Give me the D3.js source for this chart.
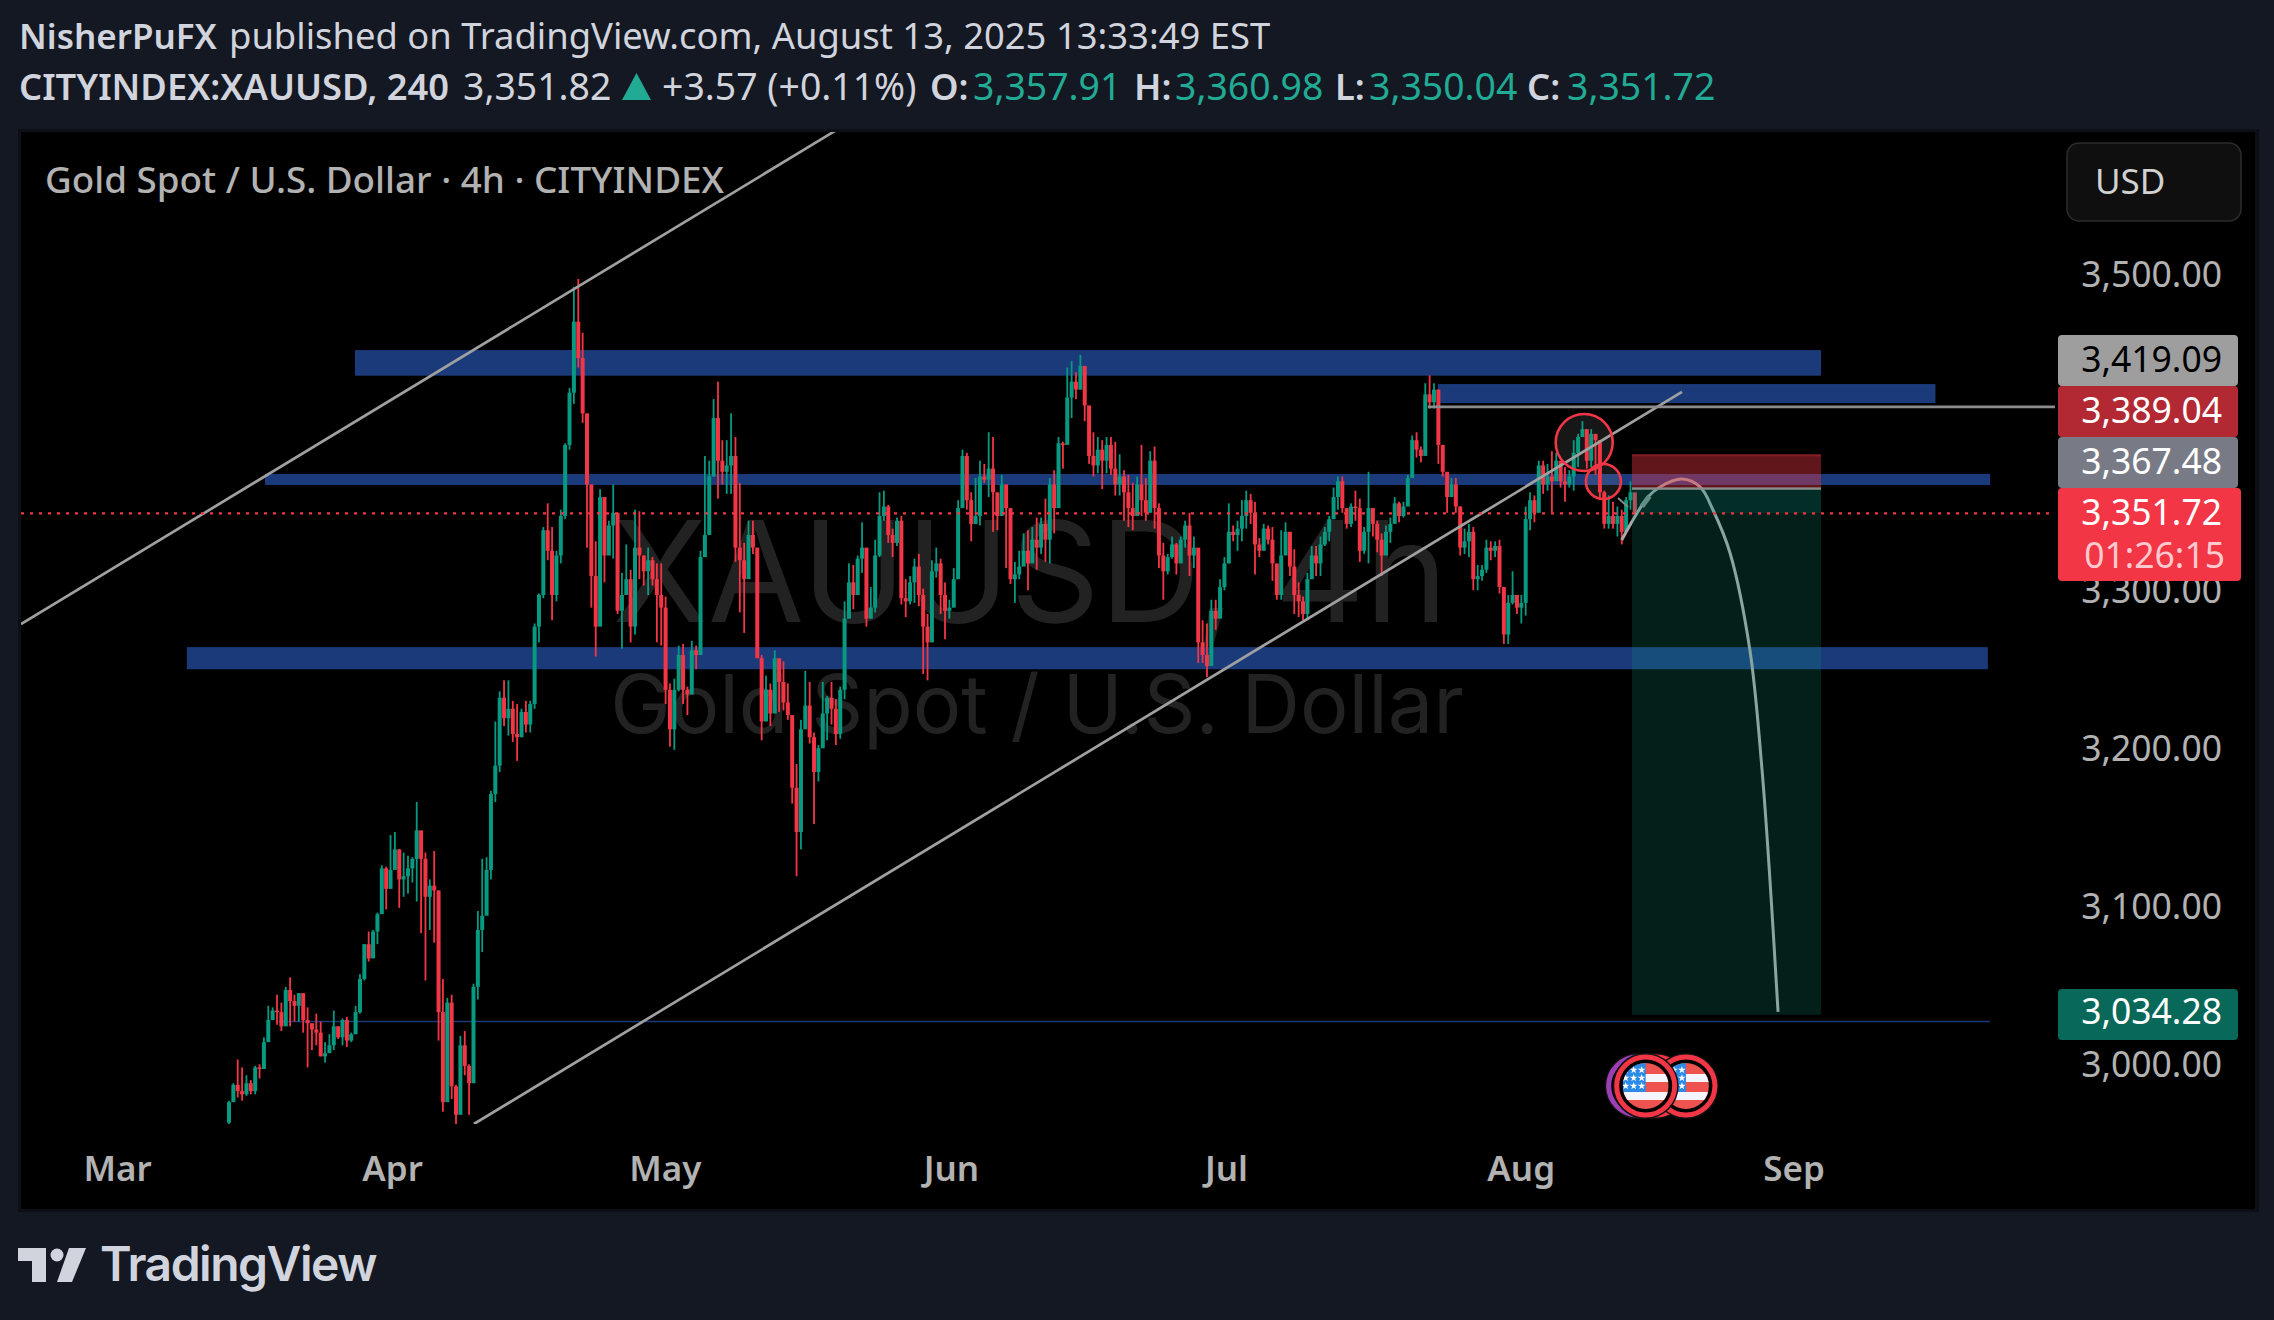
<!DOCTYPE html>
<html>
<head>
<meta charset="utf-8">
<script src="https://d3js.org/d3.v7.min.js"></script>
<style>
html, body { margin: 0; padding: 0; background: #141823; }
svg { display: block; }
text { font-family: "Noto Sans", sans-serif; }
</style>
</head>
<body>
<svg id="chart" width="2274" height="1320"></svg>
<script>
// candles: one entry = two 4h bars, open is the close before
var firstOpen = 2966
var candleHigh = [
2980,2991,3006,3001,2996,2993,3002,3003,3020,3040,
3039,3047,3042,3052,3058,3047,3048,3048,3039,3026,
3035,3030,3017,3022,3037,3027,3032,3033,3023,3040,
3060,3079,3087,3088,3099,3129,3128,3148,3150,3139,
3137,3135,3134,3169,3151,3137,3120,3138,3113,3057,
3045,3047,2990,3021,3024,3003,3054,3100,3133,3134,
3176,3220,3239,3246,3246,3233,3231,3228,3233,3233,
3282,3301,3343,3358,3343,3328,3354,3396,3431,3495,
3500,3466,3388,3350,3334,3367,3344,3347,3370,3330,
3314,3332,3316,3354,3353,3325,3330,3324,3320,3320,
3299,3244,3247,3268,3269,3242,3271,3268,3328,3388,
3385,3424,3435,3398,3398,3415,3400,3371,3333,3347,
3347,3325,3262,3249,3244,3265,3258,3258,3244,3223,
3193,3221,3252,3245,3213,3205,3245,3236,3245,3234,
3242,3296,3320,3319,3325,3346,3317,3305,3335,3365,
3366,3357,3342,3349,3350,3310,3312,3323,3326,3304,
3288,3322,3330,3323,3308,3297,3317,3360,3392,3390,
3365,3374,3385,3383,3403,3400,3364,3376,3367,3334,
3321,3328,3339,3341,3343,3349,3349,3361,3374,3379,
3400,3397,3444,3448,3441,3452,3434,3418,3403,3400,
3398,3400,3400,3397,3389,3379,3376,3371,3375,3395,
3374,3391,3394,3358,3333,3326,3337,3333,3337,3347,
3352,3337,3301,3284,3282,3297,3297,3310,3324,3358,
3344,3347,3360,3366,3364,3359,3336,3345,3344,3343,
3316,3341,3346,3340,3329,3308,3299,3314,3331,3331,
3337,3343,3350,3368,3375,3375,3352,3358,3366,3361,
3343,3378,3354,3347,3339,3344,3349,3362,3359,3359,
3376,3401,3403,3394,3434,3439,3434,3430,3394,3377,
3374,3374,3356,3342,3345,3343,3319,3319,3335,3334,
3334,3335,3305,3300,3315,3300,3300,3356,3365,3363,
3385,3385,3383,3391,3390,3381,3381,3379,3398,3402,
3410,3403,3405,3401,3393,3366,3363,3359,3356,3354,3362,3372,3361]
var candleLow = [
2965,2983,2982,2980,2983,2984,2984,2994,3001,3018,
3031,3028,3024,3031,3027,3030,3030,3023,3001,3012,
3015,3008,3004,3012,3012,3019,3015,3014,3017,3022,
3035,3056,3068,3075,3079,3107,3101,3122,3127,3102,
3109,3111,3118,3106,3086,3056,3088,3080,3018,2973,
3015,2981,2965,2982,2996,2971,3001,3044,3074,3104,
3120,3169,3188,3217,3211,3207,3195,3210,3213,3213,
3228,3270,3298,3322,3284,3296,3320,3348,3392,3421,
3444,3409,3330,3292,3261,3316,3308,3327,3323,3288,
3266,3300,3270,3275,3310,3306,3300,3306,3270,3268,
3231,3204,3202,3239,3231,3224,3240,3253,3264,3324,
3352,3375,3361,3370,3364,3364,3321,3289,3276,3321,
3326,3260,3208,3220,3217,3226,3226,3227,3221,3168,
3122,3139,3217,3206,3155,3182,3208,3208,3218,3205,
3209,3234,3286,3291,3309,3314,3280,3288,3289,3324,
3347,3333,3324,3331,3294,3286,3294,3295,3293,3250,
3246,3287,3311,3288,3272,3285,3299,3312,3362,3354,
3334,3345,3344,3371,3362,3340,3341,3354,3317,3307,
3295,3310,3322,3303,3324,3316,3326,3321,3320,3339,
3377,3380,3396,3412,3424,3430,3410,3383,3375,3377,
3367,3377,3376,3363,3363,3347,3343,3341,3354,3350,
3347,3356,3342,3317,3297,3313,3323,3313,3325,3330,
3312,3317,3257,3257,3248,3260,3278,3288,3303,3320,
3334,3328,3334,3342,3345,3313,3324,3330,3332,3309,
3297,3297,3326,3312,3288,3286,3284,3284,3312,3312,
3312,3331,3334,3348,3354,3352,3342,3343,3347,3321,
3326,3320,3337,3327,3312,3335,3333,3347,3346,3349,
3359,3376,3387,3384,3393,3418,3418,3383,3375,3352,
3365,3352,3325,3326,3324,3303,3303,3309,3314,3322,
3324,3301,3269,3269,3294,3288,3282,3287,3341,3346,
3353,3364,3366,3352,3373,3368,3359,3368,3366,3381,
3400,3380,3381,3376,3360,3342,3342,3342,3337,3332,3343,3354,3351]
var candleClose = [
2979,2990,2986,2984,2991,2986,3001,3000,3017,3031,
3037,3036,3027,3050,3043,3040,3048,3031,3029,3025,
3023,3008,3010,3015,3027,3020,3031,3018,3022,3036,
3057,3079,3070,3087,3098,3127,3114,3126,3139,3120,
3122,3127,3133,3151,3133,3109,3116,3113,3036,2979,
3042,2989,2971,3015,3002,2991,3052,3088,3097,3126,
3174,3192,3235,3222,3228,3212,3210,3226,3218,3231,
3280,3300,3341,3328,3300,3325,3350,3395,3428,3473,
3450,3415,3370,3312,3280,3362,3325,3344,3352,3290,
3300,3310,3280,3330,3325,3315,3322,3310,3300,3292,
3240,3215,3240,3262,3240,3237,3265,3262,3324,3338,
3375,3412,3385,3378,3382,3388,3330,3322,3310,3338,
3330,3260,3220,3240,3225,3260,3245,3232,3224,3178,
3150,3215,3230,3210,3188,3203,3225,3235,3228,3212,
3240,3285,3308,3300,3323,3330,3285,3292,3325,3350,
3356,3338,3333,3347,3298,3296,3308,3318,3300,3280,
3270,3315,3320,3300,3290,3292,3310,3355,3388,3360,
3345,3350,3375,3373,3380,3365,3350,3370,3355,3310,
3313,3318,3328,3320,3335,3330,3345,3335,3370,3355,
3396,3395,3425,3435,3430,3445,3420,3388,3382,3392,
3385,3395,3380,3370,3375,3365,3355,3350,3370,3360,
3352,3385,3355,3325,3315,3324,3332,3320,3335,3344,
3325,3330,3270,3262,3255,3290,3285,3305,3320,3340,
3338,3342,3350,3360,3352,3332,3328,3342,3335,3320,
3300,3325,3340,3318,3300,3296,3288,3310,3325,3320,
3332,3340,3348,3362,3372,3355,3345,3356,3355,3328,
3340,3355,3345,3335,3325,3340,3345,3358,3350,3356,
3374,3398,3392,3388,3427,3422,3430,3395,3378,3362,
3370,3356,3330,3334,3340,3310,3312,3316,3330,3328,
3331,3305,3275,3295,3300,3292,3295,3348,3360,3352,
3382,3370,3375,3372,3385,3372,3370,3375,3390,3400,
3405,3385,3402,3398,3365,3345,3350,3345,3350,3340,3360,3365,3352]
var firstBar = 51.3
var barsPerCandle = 2

// axis
var priceTicks = [3500, 3300, 3200, 3100, 3000]
var monthLabels = ["Mar", "Apr", "May", "Jun", "Jul", "Aug", "Sep"]
var monthBars = [0, 126, 251, 382, 508, 643, 768]

// drawings, in bars and prices
var zoneStart = [109, 605, 67.8, 32]
var zoneEnd = [780.6, 833, 858, 857]
var zoneTop = [3455, 3433.5, 3376.6, 3267]
var zoneBottom = [3438.8, 3421.5, 3369.6, 3253]
var trendBars = [[-44, 328.9], [163.5, 716.9]]
var trendPrices = [[3281.6, 3593.7], [2965.2, 3428.5]]
var curveBars = [689.3, 701.3, 706.8, 716.9, 725.2, 731.1, 738.9, 748, 753.5, 757.2, 760.9]
var curvePrices = [3334.8, 3362, 3368.4, 3373.4, 3368.4, 3353.8, 3326.6, 3265.2, 3190.5, 3119.6, 3036.1]
var circleBars = [672.1, 680.9]
var circlePrices = [3396.5, 3371.8]
var circleRadius = [28.5, 17.5]
var eventBars = [696.6, 700.2, 705, 718.7]
var eventRing = ["#9c3fb5", "#f23645", "#f23645", "#f23645"]

var lastPrice = 3351.72
var entryPrice = 3367.48
var stopPrice = 3389.04
var targetPrice = 3034.28
var levelPrice = 3419.09
var levelBars = [600.5, 887.8]
var lowLinePrice = 3030
var lowLineBars = [74, 858]
var positionBars = [694, 780.6]

var priceLabels = [
    { value: levelPrice, fill: "#9e9e9e", color: "#000", h: 51 },
    { value: stopPrice, fill: "#b22833", color: "#fff", h: 51 },
    { value: entryPrice, fill: "#787b86", color: "#fff", h: 51 },
    { value: lastPrice, fill: "#f23645", color: "#fff", h: 93 }
]

var svg = d3.select("#chart")
var fmt = d3.format(",.2f")
var x = d3.scaleLinear().domain([0, 1000]).range([117, 2300])
var y = d3.scaleLinear().domain([3500, 3000]).range([279, 1069])
var upColor = "#089981", downColor = "#f23645"

svg.append("rect").attr("width", 2274).attr("height", 1320).attr("fill", "#141823")
svg.append("rect").attr("x", 18).attr("y", 129).attr("width", 2241).attr("height", 1083).attr("fill", "#0c0f15")
svg.append("rect").attr("x", 21).attr("y", 132).attr("width", 2234).attr("height", 1077).attr("fill", "#000")

var defs = svg.append("defs")
defs.append("clipPath").attr("id", "pane").append("rect")
    .attr("x", 21).attr("y", 132).attr("width", 2034).attr("height", 992)

// header
function headerRow(yPos, boldSize, plainSize, parts) {
    parts.forEach(function(p) {
        svg.append("text").attr("x", p[1]).attr("y", yPos).text(p[0])
            .attr("fill", p[3] || "#d1d4dc").attr("font-size", p[2] ? boldSize : plainSize)
            .attr("font-weight", p[2] ? 600 : 400)
    })
}
headerRow(49, 35, 36.4, [["NisherPuFX", 19, true], ["published on TradingView.com, August 13, 2025 13:33:49 EST", 229, false]])
headerRow(100, 36.3, 37.4, [
    ["CITYINDEX:XAUUSD, 240", 19, true], ["3,351.82", 463, false],
    ["+3.57 (+0.11%)", 662, false],
    ["O:", 930, true], ["3,357.91", 973, false, "#22ab94"],
    ["H:", 1134, true], ["3,360.98", 1175, false, "#22ab94"],
    ["L:", 1335, true], ["3,350.04", 1369, false, "#22ab94"],
    ["C:", 1527, true], ["3,351.72", 1567, false, "#22ab94"]
])
svg.append("path").attr("d", d3.line()([[622, 100], [636.5, 73], [651, 100]]) + "Z").attr("fill", "#22ab94")

// watermark
svg.append("text").attr("x", 1030).attr("y", 622).attr("text-anchor", "middle")
    .attr("font-size", 140).attr("fill", "#222").style("font-family", "Inter").text("XAUUSD, 4h")
svg.append("text").attr("x", 1037).attr("y", 733).attr("text-anchor", "middle")
    .attr("font-size", 81).attr("fill", "#222").style("font-family", "Inter").text("Gold Spot / U.S. Dollar")

svg.append("text").attr("x", 45).attr("y", 193).attr("font-size", 36.8).attr("font-weight", 500)
    .attr("fill", "#b2b2b2").text("Gold Spot / U.S. Dollar · 4h · CITYINDEX")

var pane = svg.append("g").attr("clip-path", "url(#pane)")

// zones
pane.selectAll(".zone").data(zoneStart).join("rect").attr("class", "zone")
    .attr("x", function(d) { return x(d) })
    .attr("width", function(d, i) { return x(zoneEnd[i]) - x(d) })
    .attr("y", function(d, i) { return y(zoneTop[i]) })
    .attr("height", function(d, i) { return y(zoneBottom[i]) - y(zoneTop[i]) })
    .attr("fill", "#1a3a7a")
pane.append("line").attr("x1", x(lowLineBars[0])).attr("x2", x(lowLineBars[1]))
    .attr("y1", y(lowLinePrice)).attr("y2", y(lowLinePrice))
    .attr("stroke", "#1a3a7a").attr("stroke-width", 1.5)

// circle fills sit under the candles
pane.selectAll(".circleFill").data(circleBars).join("circle").attr("class", "circleFill")
    .attr("cx", function(d) { return x(d) }).attr("cy", function(d, i) { return y(circlePrices[i]) })
    .attr("r", function(d, i) { return circleRadius[i] })
    .attr("fill", "rgba(255,255,255,0.09)")

// candles
var candles = candleClose.map(function(c, i) {
    return {
        bar: firstBar + i * barsPerCandle,
        open: i ? candleClose[i - 1] : firstOpen,
        high: candleHigh[i], low: candleLow[i], close: c
    }
})
var candle = pane.append("g").selectAll("g").data(candles).join("g")
    .attr("fill", function(d) { return d.close >= d.open ? upColor : downColor })
candle.append("rect")
    .attr("x", function(d) { return x(d.bar) - 0.9 }).attr("width", 1.8)
    .attr("y", function(d) { return y(d.high) })
    .attr("height", function(d) { return y(d.low) - y(d.high) })
candle.append("rect")
    .attr("x", function(d) { return x(d.bar) - 2 }).attr("width", 4)
    .attr("y", function(d) { return y(Math.max(d.open, d.close)) })
    .attr("height", function(d) { return Math.max(1.5, Math.abs(y(d.open) - y(d.close))) })

// trend lines and the projected path
trendBars.forEach(function(b, i) {
    pane.append("line").attr("x1", x(b[0])).attr("x2", x(b[1]))
        .attr("y1", y(trendPrices[i][0])).attr("y2", y(trendPrices[i][1]))
        .attr("stroke", "#a0a0a0").attr("stroke-width", 2.7)
})
var pathLine = d3.line().curve(d3.curveCatmullRom)
    .x(function(d) { return x(d) }).y(function(d, i) { return y(curvePrices[i]) })
pane.append("path").attr("d", pathLine(curveBars)).attr("fill", "none")
    .attr("stroke", "#a8a8a8").attr("stroke-width", 3)
pane.append("line").attr("x1", x(687.6)).attr("y1", y(3361.4)).attr("x2", x(692.2)).attr("y2", y(3355.7))
    .attr("stroke", "#888").attr("stroke-width", 2)
pane.append("line").attr("x1", x(698.5)).attr("y1", y(3356)).attr("x2", x(702)).attr("y2", y(3362.5))
    .attr("stroke", "#888").attr("stroke-width", 5)

pane.append("line").attr("x1", x(levelBars[0])).attr("x2", x(levelBars[1]))
    .attr("y1", y(levelPrice)).attr("y2", y(levelPrice))
    .attr("stroke", "#8c8c8c").attr("stroke-width", 2.6)

pane.selectAll(".circleLine").data(circleBars).join("circle").attr("class", "circleLine")
    .attr("cx", function(d) { return x(d) }).attr("cy", function(d, i) { return y(circlePrices[i]) })
    .attr("r", function(d, i) { return circleRadius[i] })
    .attr("fill", "none").attr("stroke", "#f23645").attr("stroke-width", 2.6)

// position box
var boxX = x(positionBars[0]), boxW = x(positionBars[1]) - boxX
pane.append("rect").attr("x", boxX).attr("width", boxW).attr("y", y(stopPrice)).attr("height", y(entryPrice) - y(stopPrice))
    .attr("fill", "rgba(242,54,69,0.4)")
pane.append("rect").attr("x", boxX).attr("width", boxW).attr("y", y(stopPrice)).attr("height", 2)
    .attr("fill", "rgba(242,54,69,0.25)")
pane.append("rect").attr("x", boxX).attr("width", boxW).attr("y", y(entryPrice)).attr("height", y(lastPrice) - y(entryPrice))
    .attr("fill", "rgba(8,153,129,0.3)")
pane.append("rect").attr("x", boxX).attr("width", boxW).attr("y", y(lastPrice)).attr("height", y(targetPrice) - y(lastPrice))
    .attr("fill", "rgba(8,153,129,0.2)")
pane.append("rect").attr("x", boxX).attr("width", boxW).attr("y", y(entryPrice) - 1).attr("height", 2.4)
    .attr("fill", "#8c8c8c")

// last price line
pane.append("line").attr("x1", 21).attr("x2", 2050).attr("y1", y(lastPrice)).attr("y2", y(lastPrice))
    .attr("stroke", "#f23645").attr("stroke-width", 2.2).attr("stroke-dasharray", "3 6")

// axes
var yAxis = d3.axisRight(y).tickValues(priceTicks).tickSize(0).tickFormat(fmt)
var yAxisG = svg.append("g").attr("transform", "translate(2222,0)").call(yAxis)
yAxisG.select(".domain").remove()
yAxisG.selectAll("text").attr("x", 0).attr("dy", null).attr("y", 7.5).attr("text-anchor", "end")
    .attr("fill", "#b2b2b2").attr("font-size", 35.5).style("font-family", "'Noto Sans'")

var xAxis = d3.axisBottom(x).tickValues(monthBars).tickSize(0)
    .tickFormat(function(d, i) { return monthLabels[i] })
var xAxisG = svg.append("g").attr("transform", "translate(0,1181)").call(xAxis)
xAxisG.select(".domain").remove()
xAxisG.selectAll("text").attr("y", 0).attr("dy", null)
    .attr("fill", "#b2b2b2").attr("font-size", 35).attr("font-weight", 600).style("font-family", "'Noto Sans'")

// USD button
svg.append("rect").attr("x", 2067).attr("y", 143).attr("width", 174).attr("height", 78).attr("rx", 12)
    .attr("fill", "#0f0f0f").attr("stroke", "#2c2c2c").attr("stroke-width", 1.5)
svg.append("text").attr("x", 2095).attr("y", 194).attr("font-size", 35).attr("fill", "#d1d1d1").text("USD")

// price labels stack up from the top of the scale
var labelTop = 335
priceLabels.forEach(function(l, i) {
    var w = i === 3 ? 183 : 180
    svg.append("rect").attr("x", 2058).attr("y", labelTop).attr("width", w).attr("height", l.h)
        .attr("rx", 4).attr("fill", l.fill)
    svg.append("text").attr("x", 2222).attr("y", labelTop + 37).attr("text-anchor", "end")
        .attr("font-size", 35.5).attr("fill", l.color).text(fmt(l.value))
    labelTop += l.h
})
svg.append("text").attr("x", 2225).attr("y", 568).attr("text-anchor", "end")
    .attr("font-size", 35.5).attr("fill", "#ffc9ce").text("01:26:15")
svg.append("rect").attr("x", 2058).attr("y", 989).attr("width", 180).attr("height", 51).attr("rx", 4).attr("fill", "#08695a")
svg.append("text").attr("x", 2222).attr("y", 1024).attr("text-anchor", "end")
    .attr("font-size", 35.5).attr("fill", "#fff").text(fmt(targetPrice))

// economic event flags
var flagY = 1086
eventBars.forEach(function(b, i) {
    var cx = x(b)
    var g = svg.append("g").attr("transform", "translate(" + cx + "," + flagY + ")")
    g.append("circle").attr("r", 33).attr("fill", "#111")
    g.append("circle").attr("r", 29).attr("fill", "#000").attr("stroke", eventRing[i]).attr("stroke-width", 5)
})
var flagOrder = [3, 0]
flagOrder.forEach(function(k) {
    var cx = x(eventBars[k]) + (k === 0 ? 8 : 0)
    var id = "flag" + k
    defs.append("clipPath").attr("id", id).append("circle").attr("r", 23)
    var g = svg.append("g").attr("transform", "translate(" + cx + "," + flagY + ")")
    if (k === 0) {
        g.append("circle").attr("r", 33).attr("fill", "#111")
        g.append("circle").attr("r", 29).attr("fill", "#000").attr("stroke", "#f23645").attr("stroke-width", 5)
    }
    var f = g.append("g").attr("clip-path", "url(#" + id + ")")
    f.append("rect").attr("x", -23).attr("y", -23).attr("width", 46).attr("height", 46).attr("fill", "#ef5350")
    f.append("rect").attr("x", -23).attr("y", -12).attr("width", 46).attr("height", 8).attr("fill", "#f5f5ff")
    f.append("rect").attr("x", -23).attr("y", 6).attr("width", 46).attr("height", 8).attr("fill", "#f5f5ff")
    f.append("rect").attr("x", -23).attr("y", -23).attr("width", 23).attr("height", 29).attr("fill", "#2a8ae6")
    d3.range(3).forEach(function(r) {
        d3.range(3).forEach(function(c) {
            f.append("path").attr("d", d3.symbol(d3.symbolStar, 18)())
                .attr("transform", "translate(" + (-20 + c * 8) + "," + (-16 + r * 8) + ")")
                .attr("fill", "#fff")
        })
    })
})

// logo
svg.append("path").attr("fill", "#d1d4dc")
    .attr("d", "M18 1248H46V1282H32V1261H18Z M69 1248H86L72 1282H57Z")
svg.append("circle").attr("cx", 57).attr("cy", 1255).attr("r", 6.5).attr("fill", "#d1d4dc")
svg.append("text").attr("x", 100).attr("y", 1281).attr("font-size", 48).attr("font-weight", 600)
    .attr("fill", "#d1d4dc").style("font-family", "Inter").style("letter-spacing", "-1.5px").text("TradingView")
</script>
</body>
</html>
